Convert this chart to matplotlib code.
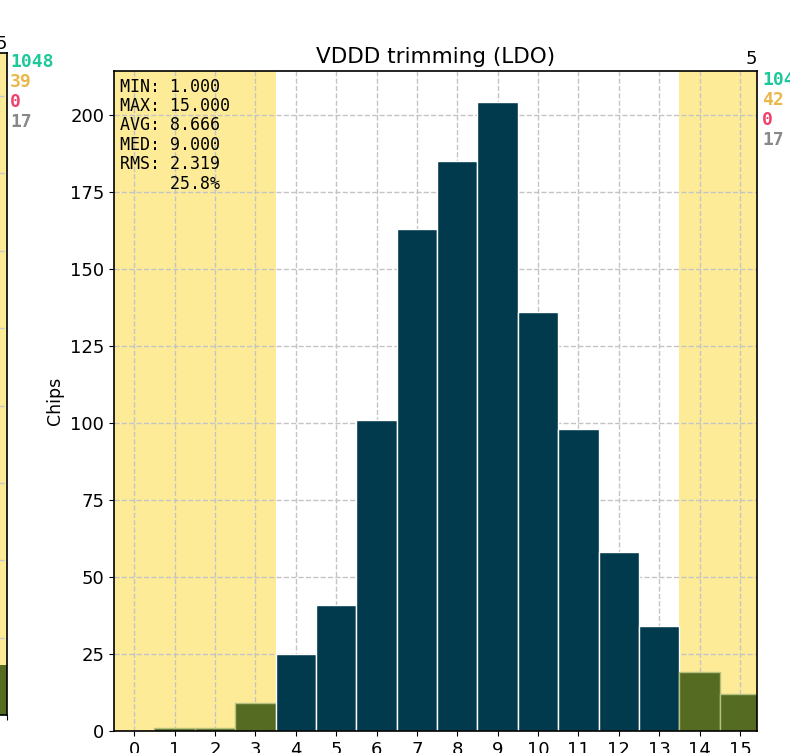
import numpy as np
import matplotlib
matplotlib.use("Agg")
import matplotlib.pyplot as plt

# trim code histogram
codes = list(range(16))
chips = [0, 1, 1, 9, 25, 41, 101, 163, 185, 204, 136, 98, 58, 34, 19, 12]
lo_ok, hi_ok = 4, 13

stats_txt = "MIN: 1.000\nMAX: 15.000\nAVG: 8.666\nMED: 9.000\nRMS: 2.319\n     25.8%"
counts = ["1045", "42", "0", "17"]
counts_left = ["1048", "39", "0", "17"]
count_colors = ["#1dc99b", "#eab84a", "#f0406c", "#888888"]

navy = "#023a4d"
olive = "#556b22"
yellow = "#fdeb98"

fig = plt.figure(figsize=(7.9, 7.53), dpi=100)

# neighbour panel, only its right edge is in view
axl = fig.add_axes([-0.5, 0.0505, 0.5089, 0.8795])
axl.set_xlim(0, 1)
axl.set_ylim(0, 214)
axl.axvspan(0, 1, color=yellow, zorder=0)
axl.bar([0.5], [16], width=1.0, color=olive, zorder=2)
axl.grid(True, color="#c8c8c8", linestyle="--", linewidth=1)
axl.set_yticks(np.arange(0, 201, 25))
axl.tick_params(labelleft=False, labelbottom=False)
for s in axl.spines.values():
    s.set_linewidth(1.2)
axl.text(1.0, 1.0, "5", transform=axl.transAxes, ha="right", va="bottom", fontsize=13)
for i, (t, c) in enumerate(zip(counts_left, count_colors)):
    axl.text(1.008, 1.0 - i * 0.0305, t, transform=axl.transAxes, ha="left", va="top",
             color=c, family="DejaVu Sans Mono", fontweight="bold", fontsize=13)

ax = fig.add_axes([0.1443, 0.0292, 0.8139, 0.8765])
ax.axvspan(-0.5, lo_ok - 0.5, color=yellow, zorder=0, lw=0)
ax.axvspan(hi_ok + 0.5, 16, color=yellow, zorder=0, lw=0)
cols = [navy if lo_ok <= c <= hi_ok else olive for c in codes]
edges = ["white" if lo_ok <= c <= hi_ok else "#b8c080" for c in codes]
ax.bar(codes, chips, width=1.0, color=cols, edgecolor=edges, linewidth=1, zorder=2)
ax.grid(True, color="#c4c4c4", linestyle="--", linewidth=1, zorder=1)
ax.set_axisbelow(True)
ax.set_xlim(-0.5, 15.42)
ax.set_ylim(0, max(chips) * 1.05)
ax.set_xticks(codes)
ax.set_yticks(np.arange(0, 201, 25))
ax.tick_params(labelsize=13)
for s in ax.spines.values():
    s.set_linewidth(1.2)
ax.set_ylabel("Chips", fontsize=12.5)
ax.set_title("VDDD trimming (LDO)", fontsize=15.5)
ax.text(0.01, 0.99, stats_txt, transform=ax.transAxes, ha="left", va="top",
        family="DejaVu Sans Mono", fontsize=12, linespacing=1.1)
ax.text(1.0, 1.004, "5", transform=ax.transAxes, ha="right", va="bottom", fontsize=13)
for i, (t, c) in enumerate(zip(counts, count_colors)):
    ax.text(1.008, 1.0 - i * 0.0305, t, transform=ax.transAxes, ha="left", va="top",
            color=c, family="DejaVu Sans Mono", fontweight="bold", fontsize=13, clip_on=False)

fig.savefig("out.png", dpi=100)
